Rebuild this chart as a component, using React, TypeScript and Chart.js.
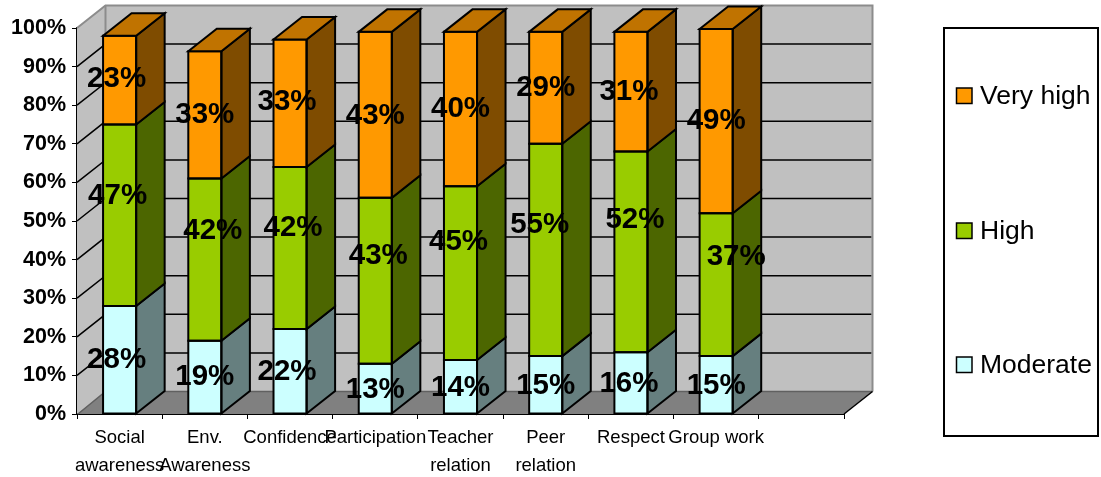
import React, { useEffect, useRef } from "react";
import { Chart, registerables } from "chart.js";

Chart.register(...registerables);

const categories: (string | string[])[] = [
  ["Social", "awareness"],
  ["Env.", "Awareness"],
  "Confidence",
  "Participation",
  ["Teacher", "relation"],
  ["Peer", "relation"],
  "Respect",
  "Group work",
  "",
];
const moderate = [28, 19, 22, 13, 14, 15, 16, 15, null];
const high = [47, 42, 42, 43, 45, 55, 52, 37, null];
const veryHigh = [23, 33, 33, 43, 40, 29, 31, 49, null];

// label placement relative to each segment's middle (px)
const nudgeX = [
  [-3, 0, -3, 0, 0, 0, -2, 0],
  [-2, 8, 3, 3, -2, -6, 4, 20],
  [-3, 0, -3, 0, 0, 0, -2, 0],
];
const nudgeY = [
  [0, 0, 1, 1, 1, 1, 1, 1],
  [-19, -29, -20, -25, -31, -25, -32, -28],
  [-1, 0, -1, 1, 0, 0, 0, 2],
];

const W = 1101;
const H = 477;
const AREA = { left: 77, right: 844, top: 28, bottom: 414 };
const DX = 28.5;
const DY = 22.5;
const FONT = '"Liberation Sans", Arial, sans-serif';

const poly = (ctx: CanvasRenderingContext2D, pts: number[][], fill?: string, stroke?: string, lw = 2) => {
  ctx.beginPath();
  pts.forEach((p, i) => (i ? ctx.lineTo(p[0], p[1]) : ctx.moveTo(p[0], p[1])));
  ctx.closePath();
  if (fill) {
    ctx.fillStyle = fill;
    ctx.fill();
  }
  if (stroke) {
    ctx.strokeStyle = stroke;
    ctx.lineWidth = lw;
    ctx.lineJoin = "miter";
    ctx.stroke();
  }
};
const line = (ctx: CanvasRenderingContext2D, pts: number[][], stroke: string, lw: number) => {
  ctx.beginPath();
  pts.forEach((p, i) => (i ? ctx.lineTo(p[0], p[1]) : ctx.moveTo(p[0], p[1])));
  ctx.strokeStyle = stroke;
  ctx.lineWidth = lw;
  ctx.stroke();
};

const box3d = {
  id: "box3d",
  beforeDatasetsDraw(chart: any) {
    const { ctx, chartArea: a, scales } = chart;
    const y = scales.y;
    ctx.save();
    poly(ctx, [[a.left + DX, a.top - DY], [a.right + DX, a.top - DY], [a.right + DX, a.bottom - DY], [a.left + DX, a.bottom - DY]], "#C0C0C0");
    poly(ctx, [[a.left, a.top], [a.left + DX, a.top - DY], [a.left + DX, a.bottom - DY], [a.left, a.bottom]], "#C0C0C0");
    poly(ctx, [[a.left, a.bottom], [a.right, a.bottom], [a.right + DX, a.bottom - DY], [a.left + DX, a.bottom - DY]], "#808080");
    y.ticks.forEach((t: any) => {
      const py = y.getPixelForValue(t.value);
      if (t.value > 0 && t.value < 100) {
        line(ctx, [[a.left, py], [a.left + DX, py - DY], [a.right + DX - 1, py - DY]], "#000", 1.5);
      }
    });
    line(ctx, [[a.left, a.top], [a.left + DX, a.top - DY], [a.right + DX, a.top - DY], [a.right + DX, a.bottom - DY]], "#8C8C8C", 2);
    line(ctx, [[a.left + DX, a.top - DY], [a.left + DX, a.bottom - DY]], "#8C8C8C", 2);
    line(ctx, [[a.left + 1, a.bottom], [a.left + DX, a.bottom - DY], [a.right + DX, a.bottom - DY]], "#606060", 1.5);
    line(ctx, [[a.right, a.bottom], [a.right + DX, a.bottom - DY]], "#000", 1.5);
    ctx.restore();
  },
  afterDatasetsDraw(chart: any) {
    const { ctx, chartArea: a } = chart;
    ctx.save();
    chart.data.datasets.forEach((ds: any, di: number) => {
      chart.getDatasetMeta(di).data.forEach((el: any, i: number) => {
        if (ds.data[i] == null) return;
        const l = el.x - el.width / 2;
        const r = el.x + el.width / 2;
        const top = Math.max(el.y, a.top + 1);
        const bot = el.base;
        poly(ctx, [[r, top], [r + DX, top - DY], [r + DX, bot - DY], [r, bot]], ds.sideColor, "#000", 2);
        poly(ctx, [[l, top], [r, top], [r, bot], [l, bot]], undefined, "#000", 2);
        if (di === chart.data.datasets.length - 1) {
          poly(ctx, [[l, top], [l + DX, top - DY], [r + DX, top - DY], [r, top]], ds.capColor, "#000", 2);
        }
      });
    });
    // data labels
    ctx.fillStyle = "#000";
    ctx.font = `bold 29.5px ${FONT}`;
    ctx.textAlign = "center";
    ctx.textBaseline = "middle";
    chart.data.datasets.forEach((ds: any, di: number) => {
      chart.getDatasetMeta(di).data.forEach((el: any, i: number) => {
        if (ds.data[i] == null) return;
        ctx.fillText(`${ds.data[i]}%`, el.x + nudgeX[di][i], (el.y + el.base) / 2 + nudgeY[di][i]);
      });
    });
    // legend
    poly(ctx, [[944, 28], [1098, 28], [1098, 436], [944, 436]], "#fff", "#000", 2);
    ctx.font = `26.5px ${FONT}`;
    ctx.textAlign = "left";
    const rows = [96, 231, 365];
    [2, 1, 0].forEach((di, k) => {
      const ds = chart.data.datasets[di];
      poly(ctx, [[956.5, rows[k] - 8], [972, rows[k] - 8], [972, rows[k] + 7.5], [956.5, rows[k] + 7.5]], ds.backgroundColor, "#000", 1.5);
      ctx.fillStyle = "#000";
      ctx.fillText(ds.label, 980, rows[k] + 1);
    });
    ctx.restore();
  },
};

export default function App() {
  const ref = useRef<HTMLCanvasElement>(null);
  useEffect(() => {
    if (!ref.current) return;
    const clip = { left: false, right: false, bottom: false, top: 0 };
    const common = { clip, borderWidth: 0, stack: "s", categoryPercentage: 1, barPercentage: 33 / 85 };
    const chart = new Chart(ref.current, {
      type: "bar",
      data: {
        labels: categories,
        datasets: [
          { label: "Moderate", data: moderate, backgroundColor: "#CCFFFF", sideColor: "#667F7F", ...common },
          { label: "High", data: high, backgroundColor: "#99CC00", sideColor: "#4C6600", ...common },
          { label: "Very high", data: veryHigh, backgroundColor: "#FF9900", sideColor: "#7F4C00", capColor: "#C07300", ...common },
        ],
      } as any,
      options: {
        responsive: false,
        animation: false,
        devicePixelRatio: 1,
        layout: { padding: { top: AREA.top, right: W - AREA.right, left: 0, bottom: 0 } },
        plugins: { legend: { display: false }, tooltip: { enabled: false }, title: { display: false } },
        scales: {
          x: {
            stacked: true,
            grid: { drawOnChartArea: false, drawTicks: true, tickLength: 5, color: "#000", tickColor: "#000" },
            border: { color: "#000", width: 2 },
            ticks: {
              autoSkip: false,
              maxRotation: 0,
              minRotation: 0,
              color: "#000",
              padding: 5,
              font: { family: FONT, size: 18.5, lineHeight: 28 / 18.5 },
            },
            afterFit: (s: any) => {
              s.height = H - AREA.bottom;
            },
          },
          y: {
            stacked: true,
            min: 0,
            max: 100,
            grid: { drawOnChartArea: false, drawTicks: true, tickLength: 5, color: "#000", tickColor: "#000" },
            border: { color: "#000", width: 2 },
            ticks: {
              stepSize: 10,
              color: "#000",
              padding: 6,
              font: { family: FONT, size: 21.5, weight: "bold" },
              callback: (v: any) => `${v}%`,
            },
            afterFit: (s: any) => {
              s.width = AREA.left;
            },
          },
        },
      } as any,
      plugins: [box3d as any],
    });
    return () => chart.destroy();
  }, []);
  return (
    <div style={{ position: "absolute", left: 0, top: 0, width: W, height: H, background: "#fff" }}>
      <canvas ref={ref} width={W} height={H} style={{ display: "block" }} />
    </div>
  );
}
